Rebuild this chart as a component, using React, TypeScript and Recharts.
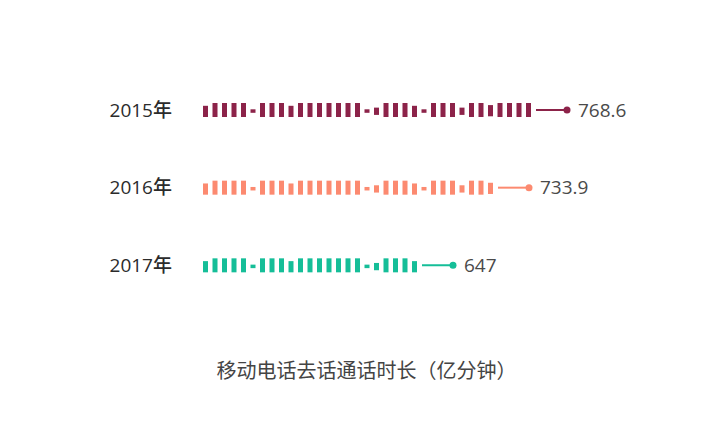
import React from 'react';
import { BarChart, Bar, XAxis, YAxis } from 'recharts';

// ---- data ----
const years = ['2015年', '2016年', '2017年'];
const durations = [768.6, 733.9, 647];
const seriesColors = ['#8c2349', '#fc8a70', '#15be98'];
const chartTitle = '移动电话去话通话时长（亿分钟）';
const valueDomain = [387, 847];

// ---- symbol style (top, bottom as fraction of the full symbol height) ----
const F = [0, 1];
const S = [0.2, 1];
const D = [0.45, 0.7];
const M = [0.33, 0.85];
const T = [0.15, 0.95];
const SYMBOL_PATTERN = [
  S, F, F, F, F, D, F, F, F, S, F, F, F, F, F, F, F, D, M, F,
  F, F, S, D, F, F, F, M, F, F, T, F, F, F, F,
];

const PITCH = 9.5;
const SYM_W = 5;
const SYM_H = 14;
const TAIL = 32;
const LINE_GAP = 5;
const LINE_LEN = 31;
const FONT = '"Open Sans", "Noto Sans CJK SC", sans-serif';
const CJK_FONT = '"Noto Sans CJK SC", sans-serif';

const rows = years.map((year, i) => ({
  year,
  value: durations[i],
  color: seriesColors[i],
}));

function PictorialShape(props: any) {
  const { x, y, width, height, payload } = props;
  if (width == null || !payload) return null;
  const color = payload.color;
  const cy = y + height / 2;
  const top0 = cy - SYM_H / 2;
  const n = Math.max(0, Math.floor((width - TAIL + (PITCH - SYM_W)) / PITCH));
  const rects = [];
  for (let i = 0; i < n; i++) {
    const s = SYMBOL_PATTERN[i % SYMBOL_PATTERN.length];
    const t = top0 + s[0] * SYM_H;
    const b = top0 + s[1] * SYM_H;
    rects.push(
      <rect key={i} x={x + i * PITCH} y={t} width={SYM_W} height={b - t} fill={color} />
    );
  }
  const barEnd = x + (n - 1) * PITCH + SYM_W;
  const lx1 = barEnd + LINE_GAP;
  const dotX = barEnd + LINE_GAP + LINE_LEN;
  return (
    <g>
      {rects}
      <line x1={lx1} y1={cy} x2={dotX} y2={cy} stroke={color} strokeWidth={2} />
      <circle cx={dotX} cy={cy} r={3.5} fill={color} />
      <text
        x={dotX + 11}
        y={cy}
        dy="0.355em"
        fill="#4a4a4a"
        fontSize={19}
        fontFamily={FONT}
        textAnchor="start"
      >
        {payload.value}
      </text>
    </g>
  );
}

function YearTick(props: any) {
  const { x, y, payload } = props;
  return (
    <text
      x={x - 31}
      y={y}
      dy="0.355em"
      textAnchor="end"
      fill="#2b2b2b"
      fontSize={19}
      fontWeight={500}
      fontFamily={FONT}
    >
      {payload.value}
    </text>
  );
}

export default function App() {
  return (
    <div style={{ position: 'absolute', left: 0, top: 0, width: 720, height: 428, background: '#fff' }}>
      <BarChart
        width={720}
        height={428}
        data={rows}
        layout="vertical"
        margin={{ top: 71, right: 80, bottom: 124, left: 143 }}
      >
        <XAxis type="number" domain={valueDomain} allowDataOverflow hide />
        <YAxis
          type="category"
          dataKey="year"
          width={60}
          axisLine={false}
          tickLine={false}
          tickSize={0}
          tickMargin={0}
          tick={<YearTick />}
        />
        <Bar dataKey="value" barSize={14} shape={<PictorialShape />} isAnimationActive={false} />
      </BarChart>
      <div
        style={{
          position: 'absolute',
          left: 0,
          width: 733,
          top: 356,
          textAlign: 'center',
          fontFamily: CJK_FONT,
          fontSize: 20,
          lineHeight: '28px',
          color: '#444',
        }}
      >
        {chartTitle}
      </div>
    </div>
  );
}
